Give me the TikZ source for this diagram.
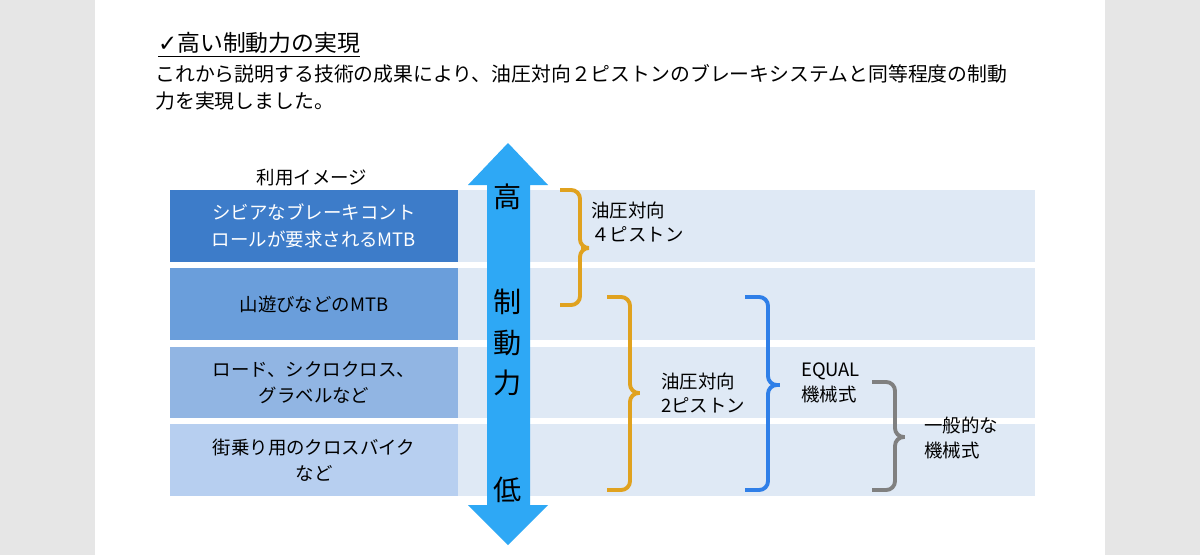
\documentclass[tikz,border=0pt]{standalone}
\usepackage{fontspec}
\setmainfont{Noto Sans CJK JP}
\newfontfamily\symf{DejaVu Sans}
\begin{document}
\begin{tikzpicture}[x=0.02cm,y=-0.02cm,
  band/.style={fill=bandc,draw=none},
  lbl/.style={anchor=west,align=left,font=\fontsize{10.5pt}{14pt}\selectfont},
  brace/.style={line width=2.2pt,rounded corners=5pt},
  big/.style={font=\fontsize{16pt}{18pt}\selectfont}]
\definecolor{bandc}{HTML}{DFE9F5}
\definecolor{sideg}{HTML}{E6E6E6}
\definecolor{arrc}{HTML}{2EA8F5}
\definecolor{org}{HTML}{E0A21F}
\definecolor{bl}{HTML}{2F7FE8}
\definecolor{gr}{HTML}{808080}
\useasboundingbox (0,0) rectangle (1200,555);
\fill[sideg] (0,0) rectangle (95,555);
\fill[sideg] (1105,0) rectangle (1200,555);
\fill[white] (95,0) rectangle (1105,555);
\node[anchor=west,font=\fontsize{13pt}{15pt}\selectfont] (title) at (152,45) {\underline{{\symf ✓}高い制動力の実現}};
\node[anchor=north west,align=left,font=\fontsize{11.3pt}{15.3pt}\selectfont,inner sep=0] (body) at (155,64) {これから説明する技術の成果により、油圧対向２ピストンのブレーキシステムと同等程度の制動\\力を実現しました。};
\node[font=\fontsize{10.5pt}{12pt}\selectfont] (use) at (312,178) {利用イメージ};
% bands
\fill[band] (170,190) rectangle (1035,262);
\fill[band] (170,268) rectangle (1035,340);
\fill[band] (170,347) rectangle (1035,418);
\fill[band] (170,424) rectangle (1035,496);
\node[fill={rgb,255:red,61;green,124;blue,201},minimum width=5.76cm,minimum height=1.44cm,inner sep=0,align=center,text=white,font=\fontsize{10.5pt}{15pt}\selectfont] (r1) at (314,226) {シビアなブレーキコント\\ロールが要求されるMTB};
\node[fill={rgb,255:red,106;green,158;blue,219},minimum width=5.76cm,minimum height=1.44cm,inner sep=0,align=center,font=\fontsize{10.5pt}{15pt}\selectfont] (r2) at (314,304) {山遊びなどのMTB};
\node[fill={rgb,255:red,145;green,181;blue,227},minimum width=5.76cm,minimum height=1.42cm,inner sep=0,align=center,font=\fontsize{10.5pt}{15pt}\selectfont] (r3) at (314,382.5) {ロード、シクロクロス、\\グラベルなど};
\node[fill={rgb,255:red,183;green,207;blue,240},minimum width=5.76cm,minimum height=1.44cm,inner sep=0,align=center,font=\fontsize{10.5pt}{15pt}\selectfont] (r4) at (314,460) {街乗り用のクロスバイク\\など};
% arrow
\fill[arrc] (508,143) -- (548,185) -- (530,185) -- (530,505) -- (548,505) -- (508,545) -- (468,505) -- (487,505) -- (487,185) -- (468,185) -- cycle;
\node[big] (hi) at (508,197) {高};
\node[big] (s1) at (508,302) {制};
\node[big] (s2) at (508,343) {動};
\node[big] (s3) at (508,383) {力};
\node[big] (lo) at (508,490) {低};
% braces
\draw[brace,org] (560,190) -- (580,190) -- (580,248) -- (590,248) -- (580,248) -- (580,305) -- (560,305);
\node[lbl] (b1) at (585,222) {油圧対向\\ ４ピストン};
\draw[brace,org] (607,297) -- (630,297) -- (630,393) -- (645,393) -- (630,393) -- (630,490) -- (607,490);
\node[lbl] (b2) at (655,393) {油圧対向\\2ピストン};
\draw[brace,bl] (745,297) -- (768,297) -- (768,385) -- (785,385) -- (768,385) -- (768,490) -- (745,490);
\node[lbl] (b3) at (795,383) {EQUAL\\機械式};
\draw[brace,gr] (872,382) -- (895,382) -- (895,437) -- (910,437) -- (895,437) -- (895,490) -- (872,490);
\node[lbl] (b4) at (918,438) {一般的な\\機械式};
\end{tikzpicture}
\end{document}
